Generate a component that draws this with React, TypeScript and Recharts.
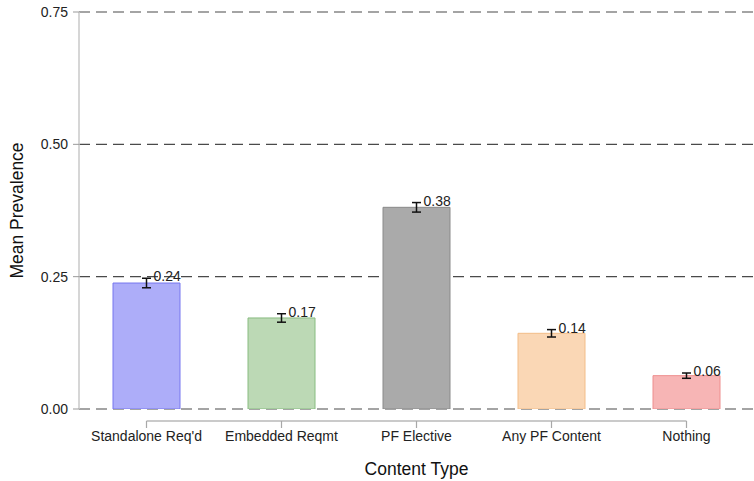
import { Bar, BarChart, CartesianGrid, Cell, ErrorBar, LabelList, XAxis, YAxis } from 'recharts';

const categories = ["Standalone Req'd", 'Embedded Reqmt', 'PF Elective', 'Any PF Content', 'Nothing'];
const means = [0.238, 0.172, 0.381, 0.143, 0.063];
const errors = [0.009, 0.008, 0.009, 0.007, 0.005];
const fills = ['#adadf9', '#bcd9b5', '#aaaaaa', '#fad7b5', '#f7b5b5'];
const strokes = ['#7676ef', '#88bc80', '#8a8a8a', '#f3bd88', '#ee8e8e'];
const yTicks = [0, 0.25, 0.5, 0.75];

const data = categories.map((name, i) => ({ name, mean: means[i], err: errors[i] }));

const W = 754;
const H = 481;
const margin = { top: 12, right: 0, bottom: 0, left: 0 };
const yAxisWidth = 79;
const xAxisHeight = 72;
const band = (W - yAxisWidth - margin.right) / categories.length;
const font = '"Liberation Sans", Arial, Helvetica, sans-serif';

// category labels hang from a bracket that joins the first and last tick
function renderCategoryTick(props: any) {
  const x = Number(props.x);
  const y = Number(props.y);
  const index = categories.indexOf(props.payload.value);
  const last = categories.length - 1;
  const top = y + 12;
  const left = index === 0 ? x : x - band / 2;
  const right = index === last ? x : x + band / 2;
  return (
    <g key={`tick-${props.payload.value}`}>
      <rect x={left} y={top - 0.6} width={right - left} height={1.2} fill="#a8a8a8" />
      <rect x={x - 0.6} y={top} width={1.2} height={7} fill="#a8a8a8" />
      <text x={x} y={top + 20} textAnchor="middle" fontSize={14} fill="#222" fontFamily={font}>
        {props.payload.value}
      </text>
    </g>
  );
}

// value printed just right of the top of the error bar
function ValueLabel(props: any) {
  const { x, y, width, height, value, index } = props;
  const pxPerUnit = height / value;
  const top = y - errors[index] * pxPerUnit;
  return (
    <text x={x + width / 2 + 7} y={top + 3} fontSize={14} fill="#222" fontFamily={font}>
      {Number(value).toFixed(2)}
    </text>
  );
}

export default function App() {
  return (
    <div style={{ position: 'absolute', left: 0, top: 0, background: '#fff' }}>
      <BarChart width={W} height={H} data={data} margin={margin} barSize={67}>
        <CartesianGrid vertical={false} stroke="#4a4a4a" strokeDasharray="11 6" strokeWidth={1.2} />
        <XAxis
          dataKey="name"
          height={xAxisHeight}
          axisLine={false}
          tickLine={false}
          tickSize={0}
          tickMargin={0}
          interval={0}
          tick={renderCategoryTick}
          label={{ value: 'Content Type', position: 'insideBottom', offset: 6, fontSize: 17.5, fill: '#111', fontFamily: font }}
        />
        <YAxis
          width={yAxisWidth}
          domain={[0, 0.75]}
          ticks={yTicks}
          allowDataOverflow
          tickFormatter={(v: number) => v.toFixed(2)}
          axisLine={{ stroke: '#c8c8c8', strokeWidth: 1.5 }}
          tickLine={{ stroke: '#999' }}
          tickSize={6}
          tickMargin={5}
          tick={{ fontSize: 14, fill: '#222', fontFamily: font }}
          label={{ value: 'Mean Prevalence', angle: -90, position: 'insideLeft', offset: 17, fontSize: 17.5, fill: '#111', fontFamily: font, style: { textAnchor: 'middle' } }}
        />
        <Bar dataKey="mean" isAnimationActive={false} strokeWidth={1}>
          {data.map((d, i) => (
            <Cell key={d.name} fill={fills[i]} stroke={strokes[i]} />
          ))}
          <ErrorBar dataKey="err" width={4.5} strokeWidth={1.5} stroke="#111" direction="y" />
          <LabelList dataKey="mean" content={<ValueLabel />} />
        </Bar>
      </BarChart>
    </div>
  );
}
